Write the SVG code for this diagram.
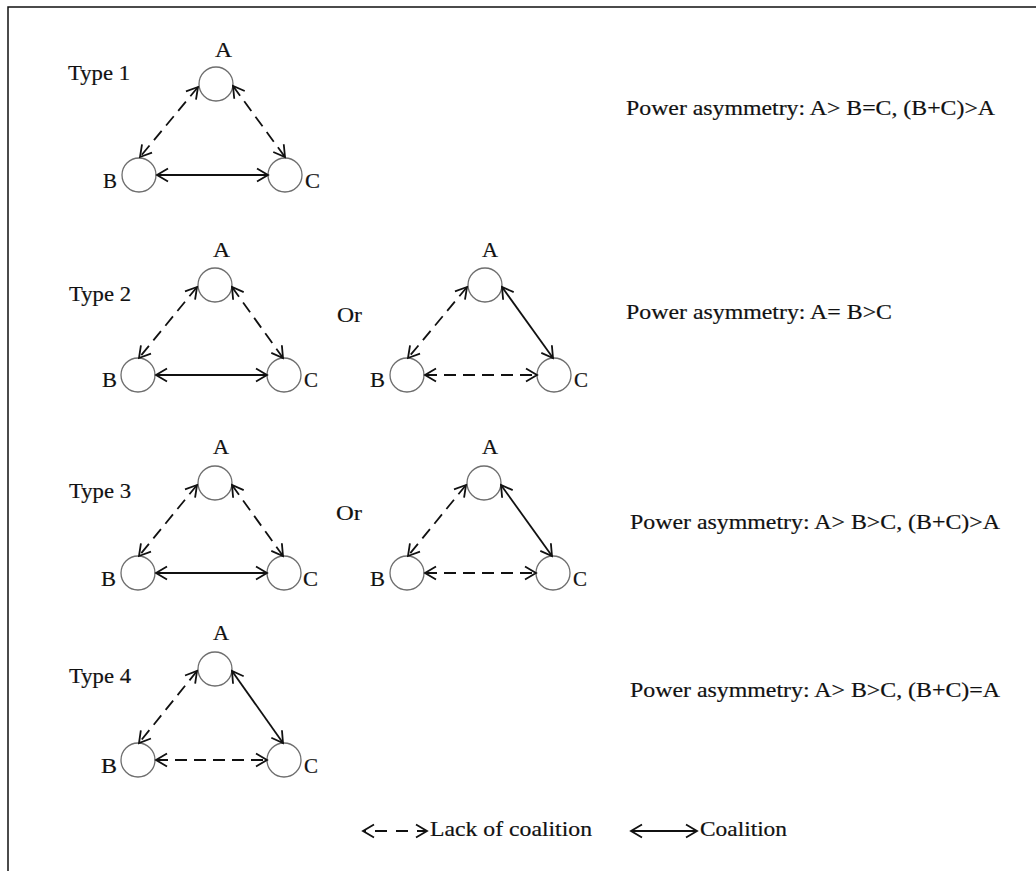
<svg xmlns="http://www.w3.org/2000/svg" width="1036" height="871" viewBox="0 0 1036 871">
<defs>
<style>
.frame{stroke:#111;stroke-width:1.5;fill:none}
.node{fill:#fff;stroke:#6e6e6e;stroke-width:1.3}
.lbl{font-family:"Liberation Serif","Times New Roman",serif;font-size:20px;fill:#111;stroke:#111;stroke-width:0.2}
.big{font-family:"Liberation Serif","Times New Roman",serif;font-size:21px;fill:#111;stroke:#111;stroke-width:0.2}
.solid{stroke:#111;stroke-width:1.8;fill:none;marker-start:url(#ah);marker-end:url(#ah)}
.dash{stroke:#111;stroke-width:1.8;fill:none;stroke-dasharray:12 7;marker-start:url(#ah);marker-end:url(#ah)}
</style>
<marker id="ah" viewBox="-14 -8 16 16" markerWidth="16" markerHeight="16" markerUnits="userSpaceOnUse" refX="0" refY="0" orient="auto-start-reverse">
<path d="M-11,-6.5 L0,0 L-11,6.5" fill="none" stroke="#111" stroke-width="1.8" stroke-dasharray="none"/>
</marker>
</defs>
<rect width="1036" height="871" fill="#fff"/>
<path class="frame" d="M8,871 L8,7 L1036,7"/>

<!-- Type 1 -->
<g id="type1">
<text class="big" x="68" y="80" textLength="62" lengthAdjust="spacingAndGlyphs">Type 1</text>
<g id="t1-A"><circle class="node" cx="216" cy="84" r="17"/><text class="lbl" x="215" y="57" textLength="17" lengthAdjust="spacingAndGlyphs">A</text></g>
<g id="t1-B"><circle class="node" cx="139" cy="175" r="17"/><text class="lbl" x="103" y="188" textLength="14" lengthAdjust="spacingAndGlyphs">B</text></g>
<g id="t1-C"><circle class="node" cx="285" cy="175" r="17"/><text class="lbl" x="305" y="188" textLength="15" lengthAdjust="spacingAndGlyphs">C</text></g>
<text class="big" x="626" y="115" textLength="369" lengthAdjust="spacingAndGlyphs">Power asymmetry: A&gt; B=C, (B+C)&gt;A</text>
</g>

<!-- Type 2 -->
<g id="type2">
<text class="big" x="69" y="301" textLength="62" lengthAdjust="spacingAndGlyphs">Type 2</text>
<g id="t2-A"><circle class="node" cx="215" cy="285" r="17"/><text class="lbl" x="213" y="257" textLength="17" lengthAdjust="spacingAndGlyphs">A</text></g>
<g id="t2-B"><circle class="node" cx="138" cy="375" r="17"/><text class="lbl" x="102" y="387" textLength="15" lengthAdjust="spacingAndGlyphs">B</text></g>
<g id="t2-C"><circle class="node" cx="284" cy="375" r="17"/><text class="lbl" x="304" y="387" textLength="14" lengthAdjust="spacingAndGlyphs">C</text></g>
<text class="big" x="337" y="322" textLength="25" lengthAdjust="spacingAndGlyphs">Or</text>
<g id="t2o-A"><circle class="node" cx="485" cy="285" r="17"/><text class="lbl" x="482" y="257" textLength="16" lengthAdjust="spacingAndGlyphs">A</text></g>
<g id="t2o-B"><circle class="node" cx="407" cy="375" r="17"/><text class="lbl" x="370" y="387" textLength="15" lengthAdjust="spacingAndGlyphs">B</text></g>
<g id="t2o-C"><circle class="node" cx="554" cy="375" r="17"/><text class="lbl" x="574" y="387" textLength="14" lengthAdjust="spacingAndGlyphs">C</text></g>
<text class="big" x="626" y="319" textLength="266" lengthAdjust="spacingAndGlyphs">Power asymmetry: A= B&gt;C</text>
</g>

<!-- Type 3 -->
<g id="type3">
<text class="big" x="69" y="498" textLength="62" lengthAdjust="spacingAndGlyphs">Type 3</text>
<g id="t3-A"><circle class="node" cx="215" cy="483" r="17"/><text class="lbl" x="213" y="454" textLength="16" lengthAdjust="spacingAndGlyphs">A</text></g>
<g id="t3-B"><circle class="node" cx="138" cy="573" r="17"/><text class="lbl" x="101" y="586" textLength="15" lengthAdjust="spacingAndGlyphs">B</text></g>
<g id="t3-C"><circle class="node" cx="284" cy="573" r="17"/><text class="lbl" x="303" y="586" textLength="15" lengthAdjust="spacingAndGlyphs">C</text></g>
<text class="big" x="336" y="520" textLength="26" lengthAdjust="spacingAndGlyphs">Or</text>
<g id="t3o-A"><circle class="node" cx="484" cy="483" r="17"/><text class="lbl" x="482" y="454" textLength="16" lengthAdjust="spacingAndGlyphs">A</text></g>
<g id="t3o-B"><circle class="node" cx="407" cy="573" r="17"/><text class="lbl" x="370" y="586" textLength="15" lengthAdjust="spacingAndGlyphs">B</text></g>
<g id="t3o-C"><circle class="node" cx="553" cy="573" r="17"/><text class="lbl" x="573" y="586" textLength="14" lengthAdjust="spacingAndGlyphs">C</text></g>
<text class="big" x="630" y="529" textLength="370" lengthAdjust="spacingAndGlyphs">Power asymmetry: A&gt; B&gt;C, (B+C)&gt;A</text>
</g>

<!-- Type 4 -->
<g id="type4">
<text class="big" x="69" y="683" textLength="62" lengthAdjust="spacingAndGlyphs">Type 4</text>
<g id="t4-A"><circle class="node" cx="215" cy="669" r="17"/><text class="lbl" x="213" y="640" textLength="16" lengthAdjust="spacingAndGlyphs">A</text></g>
<g id="t4-B"><circle class="node" cx="138" cy="760" r="17"/><text class="lbl" x="101" y="773" textLength="16" lengthAdjust="spacingAndGlyphs">B</text></g>
<g id="t4-C"><circle class="node" cx="284" cy="760" r="17"/><text class="lbl" x="304" y="773" textLength="14" lengthAdjust="spacingAndGlyphs">C</text></g>
<text class="big" x="630" y="697" textLength="370" lengthAdjust="spacingAndGlyphs">Power asymmetry: A&gt; B&gt;C, (B+C)=A</text>
</g>

<!-- Connectors -->
<g id="connectors">
<line class="dash" x1="198" y1="87" x2="140" y2="157"/>
<line class="dash" x1="233" y1="86" x2="285" y2="157"/>
<line class="solid" x1="157" y1="175" x2="268" y2="175"/>
<line class="dash" x1="197" y1="287" x2="139" y2="358"/>
<line class="dash" x1="232" y1="287" x2="283" y2="358"/>
<line class="solid" x1="156" y1="375" x2="267" y2="375"/>
<line class="dash" x1="467" y1="287" x2="408" y2="358"/>
<line class="solid" x1="502" y1="287" x2="553" y2="358"/>
<line class="dash" x1="425" y1="375" x2="537" y2="375"/>
<line class="dash" x1="197" y1="485" x2="139" y2="556"/>
<line class="dash" x1="232" y1="485" x2="283" y2="556"/>
<line class="solid" x1="156" y1="573" x2="267" y2="573"/>
<line class="dash" x1="466" y1="485" x2="408" y2="556"/>
<line class="solid" x1="501" y1="485" x2="552" y2="556"/>
<line class="dash" x1="425" y1="573" x2="536" y2="573"/>
<line class="dash" x1="197" y1="671" x2="139" y2="743"/>
<line class="solid" x1="232" y1="671" x2="283" y2="743"/>
<line class="dash" x1="156" y1="760" x2="267" y2="760"/>
</g>

<!-- Legend -->
<g id="legend">
<line class="dash" x1="363" y1="831" x2="427" y2="831" style="stroke-dasharray:12 9;stroke-dashoffset:-12"/>
<text class="big" x="430" y="836" textLength="162" lengthAdjust="spacingAndGlyphs">Lack of coalition</text>
<line class="solid" x1="631" y1="831" x2="697" y2="831"/>
<text class="big" x="700" y="836" textLength="87" lengthAdjust="spacingAndGlyphs">Coalition</text>
</g>
</svg>
